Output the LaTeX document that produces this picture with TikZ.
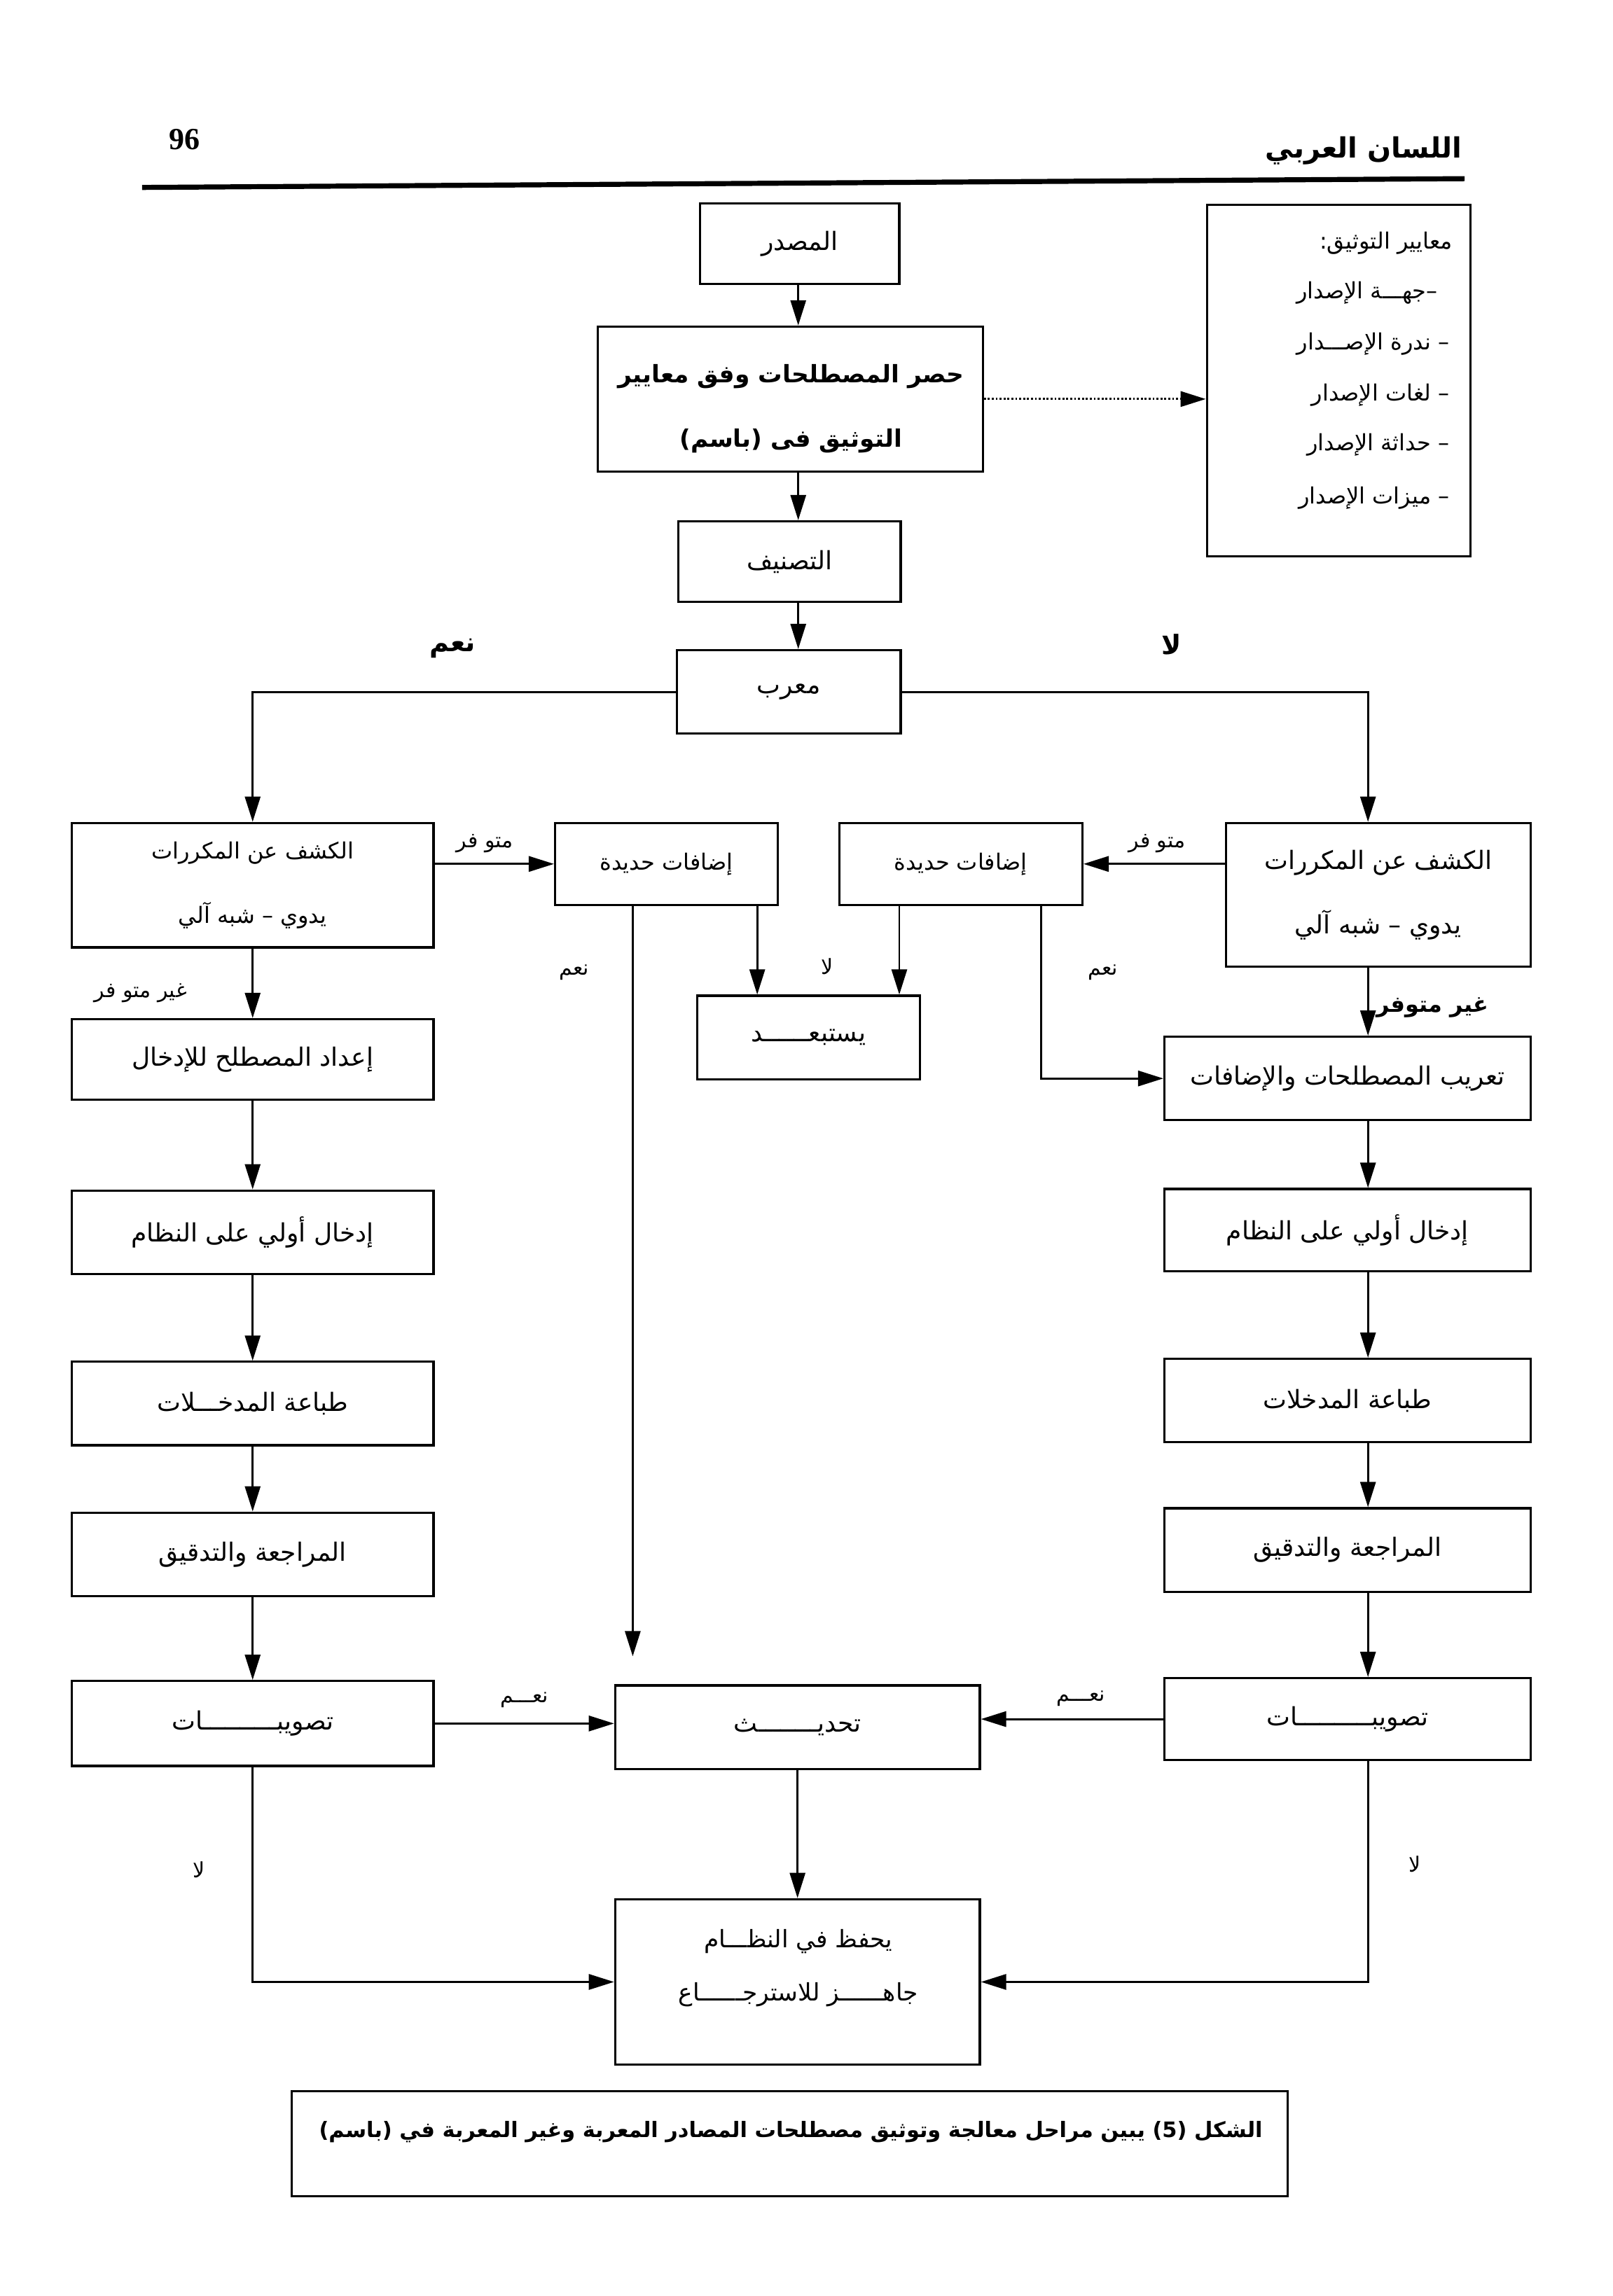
\documentclass[tikz,border=0pt]{standalone}
\usepackage{fontspec}
\usetikzlibrary{arrows.meta}
\newfontfamily\arabicfont[Script=Arabic]{DejaVu Sans}
\setmainfont{Liberation Serif}
\TeXXeTstate=1
\newcommand{\artx}[1]{\beginR #1\endR}
\begin{document}
\begin{tikzpicture}[x=0.52293pt,y=-0.52293pt,
  corners/.style n args={4}{minimum width={(#3-#1)*0.52293pt}, minimum height={(#4-#2)*0.52293pt}, at={({(#1+#3)/2},{(#2+#4)/2})}},
  box/.style={draw, line width=0.8pt, inner sep=0pt, align=center,
    font=\arabicfont\fontsize{9}{11}\selectfont},
  arr/.style={line width=0.7pt, -{Triangle[length=9pt,width=5.5pt]}},
  lbl/.style={inner sep=0pt, font=\arabicfont\fontsize{7.5}{9}\selectfont},
  biglbl/.style={inner sep=0pt, font=\arabicfont\bfseries\fontsize{9.5}{11}\selectfont},
  boldlbl/.style={inner sep=0pt, font=\arabicfont\bfseries\fontsize{8}{10}\selectfont},
  crittxt/.style={inner sep=0pt, anchor=east, font=\arabicfont\fontsize{8}{10}\selectfont}
]
\useasboundingbox (0,0) rectangle (1101,1568);
\fill[white] (0,0) rectangle (1101,1568);

% header
\node[inner sep=0pt, font=\bfseries\fontsize{11}{13}\selectfont] (pnum) at (126,95) {96};
\node[inner sep=0pt, font=\arabicfont\bfseries\fontsize{10}{12}\selectfont] (journal) at (931,103) {\artx{اللسان العربي}};
\coordinate (hl1) at (97,128);
\coordinate (hl2) at (1000,122);
\draw[line width=1.8pt] (hl1) -- (hl2);

% helper x positions
\coordinate (xM) at (545,0);
\coordinate (xR) at (934,0);
\coordinate (xA) at (432,0);
\coordinate (xB) at (517,0);
\coordinate (xC) at (614,0);
\coordinate (xD) at (711,0);

% boxes
\node[box, corners={478}{139}{614}{194}] (src) {\artx{المصدر}};
\node[box, corners={408}{223}{671}{322}] (hasr) {};
\node[inner sep=0pt, align=center, font=\arabicfont\bfseries\fontsize{8.6}{10}\selectfont] (hasrt) at (540,279) {\artx{حصر المصطلحات وفق معايير}\\[13pt]\artx{التوثيق فى (باسم)}};
\node[box, corners={824}{140}{1004}{380}] (crit) {};
\node[crittxt] (c0) at (992,166) {\artx{معايير التوثيق:}};
\node[crittxt] (c1) at (982,200) {\artx{–جهـــة الإصدار}};
\node[crittxt] (c2) at (990,235) {\artx{– ندرة الإصـــدار}};
\node[crittxt] (c3) at (990,270) {\artx{– لغات الإصدار}};
\node[crittxt] (c4) at (990,304) {\artx{– حداثة الإصدار}};
\node[crittxt] (c5) at (990,340) {\artx{– ميزات الإصدار}};

\node[box, corners={463}{356}{615}{411}] (tasn) {\artx{التصنيف}};
\node[box, corners={462}{444}{615}{501}] (muarrab) {\artx{معرب}};

\node[box, corners={49}{562}{296}{647}, font=\arabicfont\fontsize{8}{10}\selectfont] (kashfL) {\artx{الكشف عن المكررات}\\[13pt]\artx{يدوي – شبه آلي}};
\node[box, corners={379}{562}{531}{618}, font=\arabicfont\fontsize{8}{10}\selectfont] (idafL) {\artx{إضافات حديدة}};
\node[box, corners={573}{562}{739}{618}, font=\arabicfont\fontsize{8}{10}\selectfont] (idafR) {\artx{إضافات حديدة}};
\node[box, corners={837}{562}{1045}{660}] (kashfR) {\artx{الكشف عن المكررات}\\[12pt]\artx{يدوي – شبه آلي}};
\node[box, corners={476}{680}{628}{737}] (yastab) {\artx{يستبعــــــد}};
\node[box, corners={795}{708}{1045}{765}] (taarib) {\artx{تعريب المصطلحات والإضافات}};

\node[box, corners={49}{696}{296}{751}] (iedad) {\artx{إعداد المصطلح للإدخال}};
\node[box, corners={49}{813}{296}{870}] (idkhalL) {\artx{إدخال أولي على النظام}};
\node[box, corners={49}{930}{296}{987}] (tibaL) {\artx{طباعة المدخـــلات}};
\node[box, corners={49}{1033}{296}{1090}] (murajL) {\artx{المراجعة والتدقيق}};
\node[box, corners={49}{1148}{296}{1206}] (taswL) {\artx{تصويبــــــــــات}};

\node[box, corners={795}{812}{1045}{868}] (idkhalR) {\artx{إدخال أولي على النظام}};
\node[box, corners={795}{928}{1045}{985}] (tibaR) {\artx{طباعة المدخلات}};
\node[box, corners={795}{1030}{1045}{1087}] (murajR) {\artx{المراجعة والتدقيق}};
\node[box, corners={795}{1146}{1045}{1202}] (taswR) {\artx{تصويبــــــــــات}};

\node[box, corners={420}{1151}{669}{1208}] (tahdith) {\artx{تحديــــــــث}};
\node[box, corners={420}{1297}{669}{1410}] (yahfaz) {};
\node[inner sep=0pt, align=center, font=\arabicfont\fontsize{8.6}{10}\selectfont] (yahfazt) at (545,1344) {\artx{يحفظ في النظـــام}\\[9pt]\artx{جاهــــــز للاسترجــــــاع}};

\node[box, corners={199}{1428}{879}{1500}] (capbox) {};
\node[inner sep=0pt, font=\arabicfont\bfseries\fontsize{7.6}{9}\selectfont] (caption) at (540,1456) {\artx{الشكل (5) يبين مراحل معالجة وتوثيق مصطلحات المصادر المعربة وغير المعربة في (باسم)}};

% connectors
\draw[arr] (xM |- src.south) -- (xM |- hasr.north);
\draw[arr, dash pattern=on 0.7pt off 0.7pt] (hasr.east) -- (crit.west |- hasr.east);
\draw[arr] (xM |- hasr.south) -- (xM |- tasn.north);
\draw[arr] (xM |- tasn.south) -- (xM |- muarrab.north);
\draw[arr] (muarrab.west) -| (kashfL.north);
\draw[arr] (muarrab.east) -| (xR |- kashfR.north);
\node[biglbl] (naam0) at (309,443) {\artx{نعم}};
\node[biglbl] (la0) at (800,440) {\artx{لا}};

\draw[arr] (kashfL.east |- idafL.west) -- (idafL.west);
\node[lbl] (mut1) at (331,576) {\artx{متو فر}};
\draw[arr] (kashfR.west |- idafR.east) -- (idafR.east);
\node[lbl] (mut2) at (790,576) {\artx{متو فر}};

\draw[arr] (kashfL.south) -- (iedad.north);
\node[lbl] (ghair1) at (96,678) {\artx{غير متو فر}};
\draw[arr, shorten >=10pt] (xA |- idafL.south) -- (xA |- tahdith.north);
\node[lbl] (naam1) at (392,664) {\artx{نعم}};
\draw[arr] (xB |- idafL.south) -- (xB |- yastab.north);
\draw[arr] (xC |- idafR.south) -- (xC |- yastab.north);
\node[lbl] (la1) at (565,660) {\artx{لا}};
\draw[arr] (xD |- idafR.south) |- (taarib.west);
\node[lbl] (naam2) at (753,664) {\artx{نعم}};
\draw[arr] (xR |- kashfR.south) -- (xR |- taarib.north);
\node[boldlbl] (ghair2) at (978,688) {\artx{غير متوفر}};

\draw[arr] (iedad.south) -- (idkhalL.north);
\draw[arr] (idkhalL.south) -- (tibaL.north);
\draw[arr] (tibaL.south) -- (murajL.north);
\draw[arr] (murajL.south) -- (taswL.north);

\draw[arr] (xR |- taarib.south) -- (xR |- idkhalR.north);
\draw[arr] (xR |- idkhalR.south) -- (xR |- tibaR.north);
\draw[arr] (xR |- tibaR.south) -- (xR |- murajR.north);
\draw[arr] (xR |- murajR.south) -- (xR |- taswR.north);

\draw[arr] (taswL.east) -- (tahdith.west |- taswL.east);
\node[lbl] (naam3) at (358,1161) {\artx{نعـــم}};
\draw[arr] (taswR.west) -- (tahdith.east |- taswR.west);
\node[lbl] (naam4) at (738,1160) {\artx{نعـــم}};
\draw[arr] (tahdith.south) -- (yahfaz.north);
\draw[arr] (taswL.south) |- (yahfaz.west);
\node[lbl] (la2) at (136,1277) {\artx{لا}};
\draw[arr] (xR |- taswR.south) |- (yahfaz.east);
\node[lbl] (la3) at (966,1273) {\artx{لا}};
\end{tikzpicture}
\end{document}
